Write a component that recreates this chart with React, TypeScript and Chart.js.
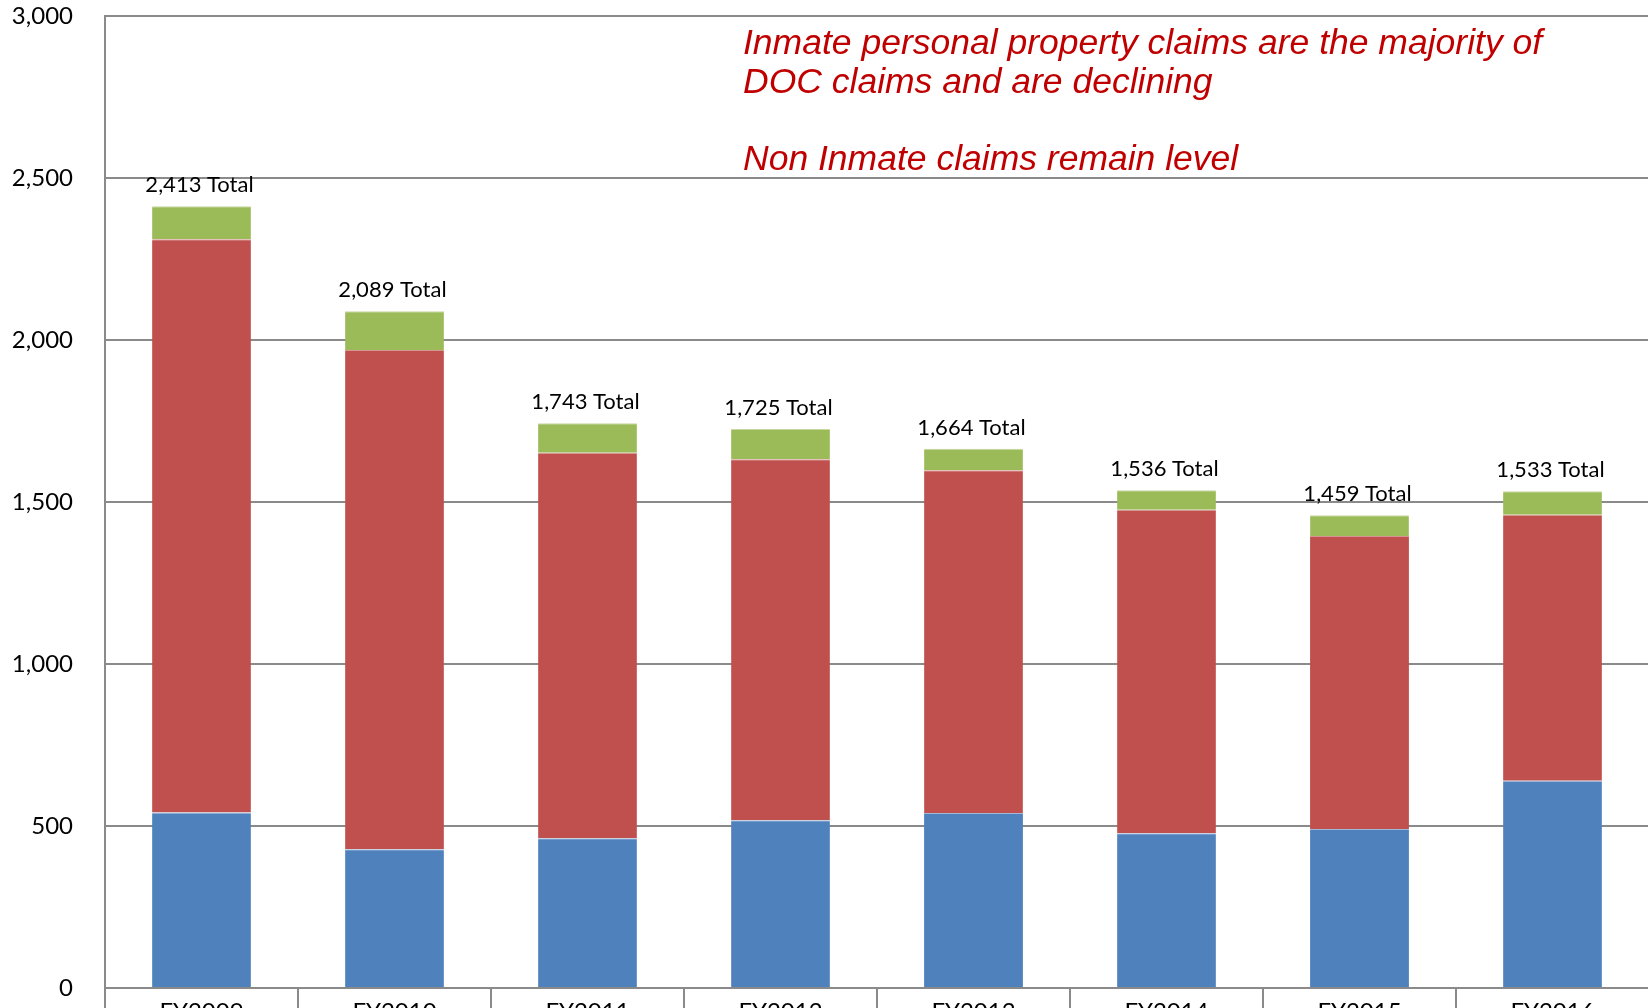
import React, { useEffect, useRef } from "react";
import { Chart, registerables } from "chart.js";

Chart.register(...registerables);

const categories = ["FY2009", "FY2010", "FY2011", "FY2012", "FY2013", "FY2014", "FY2015", "FY2016"];
const nonInmateClaims = [542, 428, 462, 518, 540, 478, 491, 640];
const inmatePropertyClaims = [1769, 1541, 1190, 1114, 1058, 998, 904, 821];
const otherInmateClaims = [102, 120, 91, 93, 66, 60, 64, 72];
const totals = [2413, 2089, 1743, 1725, 1664, 1536, 1459, 1533];
const noteLines = [
  "Inmate personal property claims are the majority of",
  "DOC claims and are declining",
  "",
  "Non Inmate claims remain level",
];

const GRID = "#8a8a8a";
const FONT = "Lato, 'Noto Sans', sans-serif";

const fmt = (v: number) => v.toLocaleString("en-US");

const totalsPlugin = {
  id: "totalsLabels",
  afterDatasetsDraw(chart: any) {
    const ctx = chart.ctx;
    const last = chart.data.datasets.length - 1;
    const meta = chart.getDatasetMeta(last);
    ctx.save();
    ctx.font = `22px ${FONT}`;
    ctx.fillStyle = "#000";
    ctx.textAlign = "center";
    ctx.textBaseline = "alphabetic";
    meta.data.forEach((el: any, i: number) => {
      ctx.fillText(`${fmt(totals[i])} Total`, el.x - 2, el.y - 14);
    });
    ctx.restore();
  },
};

const notePlugin = {
  id: "noteText",
  afterDraw(chart: any) {
    const ctx = chart.ctx;
    ctx.save();
    ctx.font = `italic 35.5px 'Liberation Sans', Arial, sans-serif`;
    ctx.fillStyle = "#C00000";
    ctx.textAlign = "left";
    ctx.textBaseline = "alphabetic";
    const x = 743;
    const y0 = 54;
    const lh = 38.5;
    noteLines.forEach((t, i) => {
      if (t) ctx.fillText(t, x, y0 + i * lh);
    });
    ctx.restore();
  },
};

export default function App() {
  const ref = useRef<HTMLCanvasElement | null>(null);

  useEffect(() => {
    if (!ref.current) return;
    const mk = (label: string, data: number[], bg: string, edge: string) => ({
      label,
      data,
      backgroundColor: bg,
      borderColor: edge,
      borderWidth: { top: 1, left: 0, right: 0, bottom: 0 },
      borderSkipped: false,
      categoryPercentage: 1,
      barPercentage: 0.512,
    });
    const chart = new Chart(ref.current, {
      type: "bar",
      data: {
        labels: categories,
        datasets: [
          mk("Non Inmate", nonInmateClaims, "#4F81BD", "#9fb9da"),
          mk("Inmate Personal Property", inmatePropertyClaims, "#C0504D", "#d99593"),
          mk("Other Inmate", otherInmateClaims, "#9BBB59", "#c6d89f"),
        ],
      },
      options: {
        responsive: false,
        animation: false,
        layout: { padding: { top: 16, right: 11, left: 0, bottom: 0 } },
        plugins: {
          legend: { display: false },
          tooltip: { enabled: false },
          title: { display: false },
        },
        scales: {
          x: {
            stacked: true,
            offset: true,
            grid: {
              offset: true,
              drawOnChartArea: false,
              drawTicks: true,
              tickLength: 40,
              color: GRID,
              lineWidth: 2,
            },
            border: { display: true, color: GRID, width: 2 },
            ticks: {
              color: "#000",
              font: { family: FONT, size: 24 },
              padding: -30,
              maxRotation: 0,
            },
            afterFit(scale: any) {
              scale.height = 52;
              scale.paddingLeft = 0;
              scale.paddingRight = 0;
            },
          },
          y: {
            stacked: true,
            min: 0,
            max: 3000,
            ticks: {
              stepSize: 500,
              color: "#000",
              font: { family: FONT, size: 24 },
              padding: 32,
              callback: (v: any) => fmt(Number(v)),
            },
            grid: { color: GRID, lineWidth: 2, drawTicks: false },
            border: { display: true, color: GRID, width: 2 },
            afterFit(scale: any) {
              scale.width = 105;
              scale.paddingTop = 0;
              scale.paddingBottom = 0;
            },
          },
        },
      },
      plugins: [totalsPlugin, notePlugin],
    } as any);
    return () => chart.destroy();
  }, []);

  return (
    <div
      style={{
        position: "fixed",
        left: 0,
        top: 0,
        width: 1648,
        height: 1008,
        overflow: "hidden",
        background: "#fff",
      }}
    >
      <canvas ref={ref} width={1660} height={1040} style={{ display: "block" }} />
    </div>
  );
}
